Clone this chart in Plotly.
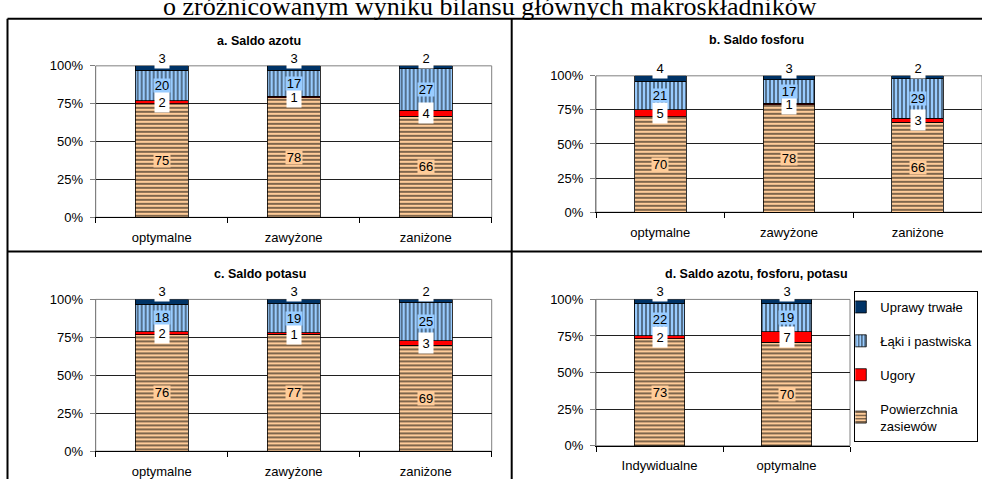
import plotly.graph_objects as go

# ---- data -------------------------------------------------------------
cats_abc = ["optymalne", "zawyżone", "zaniżone"]
cats_d = ["Indywidualne", "optymalne"]

series_names = ["Powierzchnia<br>zasiewów", "Ugory", "Łąki i pastwiska", "Uprawy trwałe"]

# panel a. Saldo azotu
a_pow = [75, 78, 66]
a_ugory = [2, 1, 4]
a_laki = [20, 17, 27]
a_uprawy = [3, 3, 2]

# panel b. Saldo fosforu
b_pow = [70, 78, 66]
b_ugory = [5, 1, 3]
b_laki = [21, 17, 29]
b_uprawy = [4, 3, 2]

# panel c. Saldo potasu
c_pow = [76, 77, 69]
c_ugory = [2, 1, 3]
c_laki = [18, 19, 25]
c_uprawy = [3, 3, 2]

# panel d. Saldo azotu, fosforu, potasu
d_pow = [73, 70]
d_ugory = [2, 7]
d_laki = [22, 19]
d_uprawy = [3, 3]

panel_titles = ["a. Saldo azotu", "b. Saldo fosforu", "c. Saldo potasu",
                "d. Saldo azotu, fosforu, potasu"]
header = "o zróżnicowanym wyniku bilansu głównych makroskładników"

y_tickvals = [0, 25, 50, 75, 100]
y_ticktext = ["0%", "25%", "50%", "75%", "100%"]

# ---- styling ----------------------------------------------------------
W, H = 982, 487
SANS = "Liberation Sans, Arial, sans-serif"
SERIF = "Liberation Serif, Times New Roman, serif"

PEACH = "#FFCC99"
RED = "#FF0000"
LIGHTBLUE = "#99CCFF"
NAVY = "#003366"

series_style = [
    dict(color=PEACH, pattern=dict(shape="-", fgcolor="black", bgcolor=PEACH, size=4, solidity=0.5)),
    dict(color=RED),
    dict(color=LIGHTBLUE, pattern=dict(shape="|", fgcolor="black", bgcolor=LIGHTBLUE, size=4, solidity=0.45)),
    dict(color=NAVY),
]
# legend lists the top segment first
legend_rank = [4, 3, 2, 1]


def px_x(p):
    return p / W


def px_y(p):
    return 1 - p / H


# plot-area rectangles (pixel coordinates of the page)
panels = [
    dict(cats=cats_abc, data=[a_pow, a_ugory, a_laki, a_uprawy],
         dom_x=(95.7, 491.7), dom_y=(60.7, 217.0), title_xy=(259, 35)),
    dict(cats=cats_abc, data=[b_pow, b_ugory, b_laki, b_uprawy],
         dom_x=(596.0, 982.0), dom_y=(71.0, 211.7), title_xy=(756, 34.5)),
    dict(cats=cats_abc, data=[c_pow, c_ugory, c_laki, c_uprawy],
         dom_x=(95.7, 491.7), dom_y=(301.7, 458.3), title_xy=(259.5, 275.7)),
    dict(cats=cats_d, data=[d_pow, d_ugory, d_laki, d_uprawy],
         dom_x=(596.0, 850.0), dom_y=(301.7, 452.7), title_xy=(756, 275)),
]

fig = go.Figure()
annotations = []
shapes = []
layout_axes = {}

for i, p in enumerate(panels):
    n = i + 1
    xa = "x" if n == 1 else f"x{n}"
    ya = "y" if n == 1 else f"y{n}"
    xkey = "xaxis" if n == 1 else f"xaxis{n}"
    ykey = "yaxis" if n == 1 else f"yaxis{n}"

    for s, (name, vals) in enumerate(zip(series_names, p["data"])):
        st = series_style[s]
        marker = dict(color=st["color"], line=dict(color="black", width=0.8))
        if "pattern" in st:
            marker["pattern"] = st["pattern"]
        fig.add_trace(go.Bar(
            x=p["cats"], y=vals, name=name, marker=marker,
            xaxis=xa, yaxis=ya, legendgroup=name, legendrank=legend_rank[s],
            showlegend=(n == 4), hoverinfo="skip",
        ))

    layout_axes[xkey] = dict(
        domain=[px_x(p["dom_x"][0]), px_x(p["dom_x"][1])],
        anchor=ya, type="category", tickson="boundaries",
        ticks="outside", ticklen=5, tickcolor="black",
        showline=True, linecolor="black", linewidth=1,
        showgrid=False, ticklabelstandoff=8,
        tickfont=dict(family=SANS, size=13, color="black"),
    )
    layout_axes[ykey] = dict(
        domain=[px_y(p["dom_y"][1]), px_y(p["dom_y"][0])],
        anchor=xa, range=[0, 100], tickvals=y_tickvals, ticktext=y_ticktext,
        ticks="outside", ticklen=5, tickcolor="#808080",
        showline=True, linecolor="#808080", linewidth=1,
        showgrid=True, gridcolor="#202020", gridwidth=1, zeroline=False,
        ticklabelstandoff=4,
        tickfont=dict(family=SANS, size=13, color="black"),
    )

    # grey plot-area frame
    shapes.append(dict(type="rect", xref=f"{xa} domain", yref=f"{ya} domain",
                       x0=0, x1=1, y0=0, y1=1, layer="below",
                       line=dict(color="#808080", width=1)))

    # panel title
    tx, ty = p["title_xy"]
    annotations.append(dict(
        text=f"<b>{panel_titles[i]}</b>", xref="paper", yref="paper",
        x=px_x(tx), y=px_y(ty), xanchor="center", yanchor="middle",
        showarrow=False, font=dict(family=SANS, size=12.5, color="black"),
    ))

    # value labels, positioned at segment centres in percent of the bar total
    for j, cat in enumerate(p["cats"]):
        col = [p["data"][s][j] for s in range(4)]
        total = sum(col)
        cum = 0.0
        for s, v in enumerate(col):
            lo = cum / total * 100
            hi = (cum + v) / total * 100
            cum += v
            base = dict(text=str(v), xref=xa, yref=ya, x=cat, showarrow=False,
                        font=dict(family=SANS, size=13, color="black"), borderpad=0)
            if s == 0:
                base.update(y=(lo + hi) / 2, yanchor="middle", bgcolor=PEACH,
                            width=16, height=13)
            elif s == 1:
                base.update(y=(lo + hi) / 2, yanchor="middle", bgcolor="white",
                            width=14, height=20)
            elif s == 2:
                base.update(y=(lo + hi) / 2, yanchor="middle", bgcolor=LIGHTBLUE,
                            width=16, height=13)
            else:
                base.update(y=hi, yanchor="bottom", yshift=-3, bgcolor="white",
                            width=14, height=17, valign="top")
            annotations.append(base)

# page header (partially above the visible area) and table rules
annotations.append(dict(
    text=header, xref="paper", yref="paper", x=px_x(490), y=px_y(17),
    xanchor="center", yanchor="bottom", showarrow=False,
    font=dict(family=SERIF, size=26, color="black"),
))

rule = dict(color="black", width=2)
shapes += [
    dict(type="line", xref="paper", yref="paper", x0=px_x(7.5), x1=1.0,
         y0=px_y(12), y1=px_y(12), line=rule),
    dict(type="line", xref="paper", yref="paper", x0=px_x(7.5), x1=1.0,
         y0=px_y(252.3), y1=px_y(252.3), line=rule),
    dict(type="line", xref="paper", yref="paper", x0=px_x(7.5), x1=px_x(7.5),
         y0=px_y(12), y1=0, line=rule),
    dict(type="line", xref="paper", yref="paper", x0=px_x(511.7), x1=px_x(511.7),
         y0=px_y(12), y1=0, line=rule),
]

fig.update_layout(
    width=W, height=H, autosize=False,
    margin=dict(l=0, r=0, t=0, b=0),
    paper_bgcolor="white", plot_bgcolor="white",
    barmode="stack", barnorm="percent", bargap=0.6,
    showlegend=True,
    legend=dict(
        x=px_x(978.3), y=px_y(293), xanchor="right", yanchor="top",
        bgcolor="white", bordercolor="black", borderwidth=1,
        font=dict(family=SANS, size=13, color="black"),
        traceorder="grouped", tracegroupgap=14, indentation=-15,
    ),
    annotations=annotations,
    shapes=shapes,
    **layout_axes,
)

fig.write_html("out.html")
